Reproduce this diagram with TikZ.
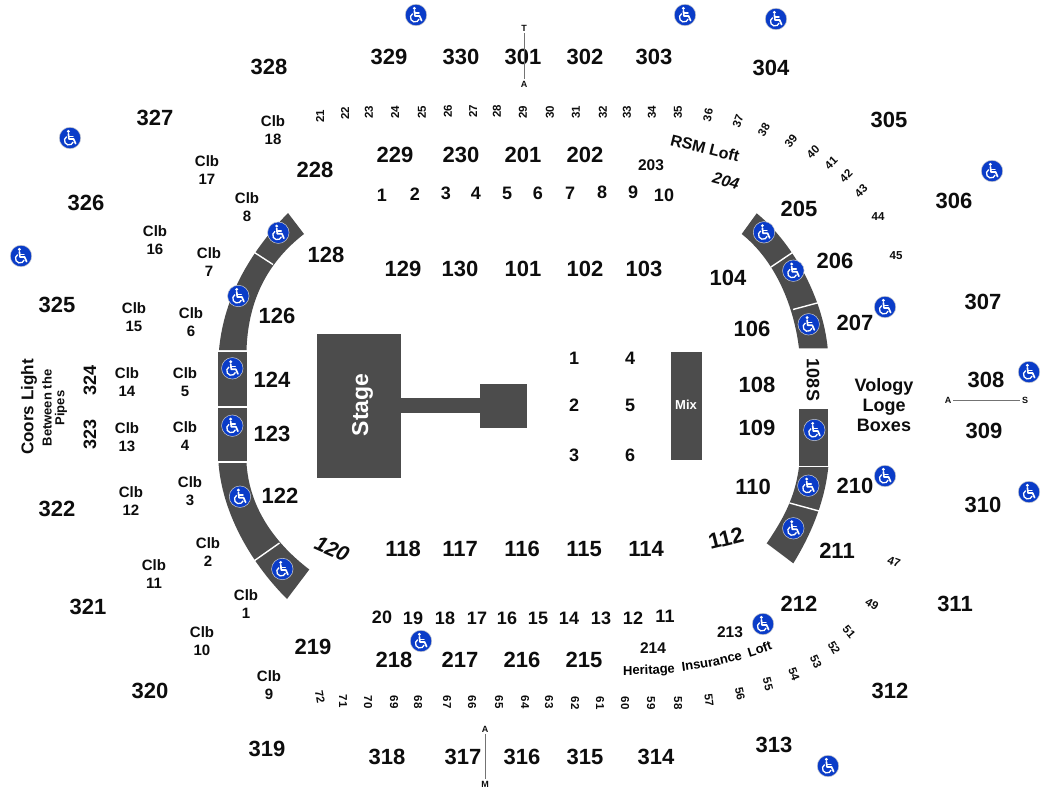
\documentclass[tikz,border=0pt]{standalone}
\usepackage{fontspec}
\setmainfont{Liberation Sans}
\usetikzlibrary{decorations.text}
\tikzset{
  every node/.style={inner sep=0pt,outer sep=0pt,text=black!95},
  labA/.style={font=\bfseries\fontsize{22}{24}\selectfont},
  labB/.style={font=\bfseries\fontsize{18}{20}\selectfont},
  labC/.style={font=\bfseries\fontsize{15}{18}\selectfont,align=center},
  labD/.style={font=\bfseries\fontsize{15.5}{17}\selectfont},
  rowno/.style={font=\bfseries\fontsize{11.5}{12}\selectfont},
  axisl/.style={font=\bfseries\fontsize{9}{9}\selectfont},
  seat/.style={fill=black!70},
  gap/.style={draw=white,line width=1.4pt},
  axis/.style={draw=black!55,line width=0.7pt,shorten >=2pt,shorten <=2pt},
  wcbase/.style={circle,minimum size=21.5pt,fill={rgb,255:red,10;green,60;blue,200},draw=black!20,line width=0.5pt},
  wc/.pic={
    \fill[white] (-1.6,-6.6) circle[radius=1.6pt];
    \draw[white,line width=1.7pt,line join=round,line cap=round] (-1.6,-4.2) -- (-1,1) -- (3.6,1) -- (5.6,5.6);
    \draw[white,line width=1.4pt,line cap=round] (-1.2,-1.8) -- (3,-1.8);
    \draw[white,line width=1.3pt] (-3.3,-1.4) arc[start angle=120,end angle=340,radius=4.5pt];
  }
}
\begin{document}
\begin{tikzpicture}[x=1pt,y=-1pt]
\useasboundingbox (0,0) rectangle (1050,800);
\fill[white] (0,0) rectangle (1050,800);
% stage
\fill[seat] (317,334) rectangle (401,478);
\fill[seat] (401,398) rectangle (480,413);
\fill[seat] (480,384) rectangle (527,428);
\fill[seat] (671,352) rectangle (702,460);
\node[font=\bfseries\fontsize{23}{23}\selectfont,text=white,rotate=90] (stage) at (362.5,405) {Stage};
\node[font=\bfseries\fontsize{13}{13}\selectfont,text=white] (mix) at (686,405) {Mix};
% left seating
\fill[seat] (219,350) .. controls (224,295) and (252,250) .. (288,213) -- (304,234) .. controls (264,265) and (248,305) .. (246.5,350) -- cycle;
\fill[seat] (218,351.5) rectangle (246.5,405.5);
\fill[seat] (218,407.5) rectangle (246.5,461);
\fill[seat] (218.5,463) .. controls (222,510) and (248,560) .. (287,599) -- (309.3,569.5) .. controls (272,541) and (249,505) .. (246.5,463) -- cycle;
\coordinate (g1a) at (253,251.5); \coordinate (g1b) at (273,264.5);
\coordinate (g2a) at (252.5,562); \coordinate (g2b) at (279.5,543);
\draw[gap] (g1a) -- (g1b);
\draw[gap] (g2a) -- (g2b);
% right seating
\fill[seat] (756.7,213.3) .. controls (795,245) and (823,300) .. (827.7,348.3) -- (799,348.3) .. controls (793,300) and (772,258) .. (741.7,234) -- cycle;
\fill[seat] (799,409) rectangle (828.3,465.7);
\fill[seat] (828.3,467) .. controls (825,500) and (812,533) .. (793.3,563.3) -- (766.7,543.3) .. controls (784,518) and (795,497) .. (799,467) -- cycle;
\coordinate (g3a) at (794,251.5); \coordinate (g3b) at (771,267);
\coordinate (g4a) at (819,302.5); \coordinate (g4b) at (793,309.5);
\coordinate (g5a) at (789.5,503); \coordinate (g5b) at (819,511);
\draw[gap] (g3a) -- (g3b);
\draw[gap] (g4a) -- (g4b);
\draw[gap] (g5a) -- (g5b);
% wheelchair icons
\foreach \x/\y [count=\i] in {416/15,685/15,776/19,70/138,992/171,21/256,885/307,1029/372,885/476,1029/492,763/624,421/641,828/766,278.3/232.7,238.3/296,232.3/368.3,232.3/425.7,240/496.7,282.3/569,764/232.3,793.3/270.7,808.7/324.3,814.3/430,808.3/485.7,793.3/528.3}{
  \node[wcbase] (w\i) at (\x,\y) {};
  \pic at (\x,\y) {wc};
}
% large section labels
\foreach \x/\y/\t in {389/57/329,461/57/330,523/57/301,585/57/302,654/57/303,771/68/304,269/67/328,155/118/327,86/203/326,57/305/325,889/120/305,954/201/306,983/302/307,986/380/308,984/431/309,983/505/310,955/604/311,890/691/312,774/745/313,656/757/314,585/757/315,522/757/316,463/757/317,387/757/318,267/749/319,150/691/320,88/607/321,57/509/322,
395/155/229,461/155/230,523/155/201,585/155/202,315/170/228,799/209/205,835/261/206,855/323/207,855/486/210,837/551/211,799/604/212,394/660/218,460/660/217,522/660/216,584/660/215,313/647/219,
326/255/128,403/269/129,460/269/130,523/269/101,585/269/102,644/269/103,728/278/104,752/329/106,757/385/108,757/428/109,753/487/110,646/549/114,584/549/115,522/549/116,460/549/117,403/549/118,280/496/122,272/434/123,272/380/124,277/316/126}{
  \node[labA] (s\t) at (\x,\y) {\t};
}
\node[labA,rotate=14] (s112) at (726,538) {112};
\node[rotate=-24,font=\bfseries\itshape\fontsize{21}{24}\selectfont] (s120) at (332,549) {120};
\node[labB,rotate=90] (s323) at (90,434) {323};
\node[labB,rotate=90] (s324) at (90,380) {324};
\node[labB,rotate=-90] (s108S) at (813,380) {108S};
% small section labels
\foreach \x/\y/\t in {651/165/203,730/632/213,653/648/214}{
  \node[labD] (s\t) at (\x,\y) {\t};
}
\node[font=\bfseries\itshape\fontsize{16}{16}\selectfont,rotate=-15] (s204) at (726,181) {204};
\node[font=\bfseries\fontsize{16}{16}\selectfont,rotate=-14] (rsm) at (705,148) {RSM Loft};
% rows
\foreach \x/\y/\t in {382/195/1,415/194/2,446/193/3,476/193/4,507/193/5,538/193/6,570/193/7,602/192/8,633/192/9,664/195/10}{
  \node[labB] (t\t) at (\x,\y) {\t};
}
\foreach \x/\y/\t in {382/617/20,413/618/19,445/618/18,477/618/17,507/618/16,538/618/15,569/618/14,601/618/13,633/618/12,665/616/11}{
  \node[labB] (b\t) at (\x,\y) {\t};
}
\foreach \x/\y/\t in {574/358/1,630/358/4,574/405/2,630/405/5,574/455/3,630/455/6}{
  \node[labB] (f\t) at (\x,\y) {\t};
}
% Clb
\foreach \x/\y/\t in {273/130/18,207/170/17,155/240/16,134/317/15,127/382/14,127/437/13,131/501/12,154/574/11,202/641/10,269/685/9,247/207/8,209/262/7,191/322/6,185/382/5,185/436/4,190/491/3,208/552/2,246/604/1}{
  \node[labC] (c\t) at (\x,\y) {Clb\\\t};
}
% boxes text
\node[labB,align=center,font=\bfseries\fontsize{18}{20.3}\selectfont] (vol) at (884,405) {Vology\\Loge\\Boxes};
\node[font=\bfseries\fontsize{17}{17}\selectfont,rotate=90] (coors) at (29,407) {Coors Light};
\node[font=\bfseries\fontsize{13}{13}\selectfont,rotate=90] (betw) at (47,408) {Between the};
\node[font=\bfseries\fontsize{13}{13}\selectfont,rotate=90] (pipes) at (61,408) {Pipes};
% row numbers: top and bottom bands
\foreach \x/\y/\t/\r in {320/116/21/90,345/113/22/90,369/112/23/90,395/112/24/90,422/112/25/90,448/111/26/90,473/111/27/90,497/111/28/90,523/112/29/90,550/112/30/90,576/112/31/90,603/112/32/90,627/112/33/90,652/112/34/90,678/112/35/90,708/115/36/78,738/121/37/70,764/130/38/60,791/141/39/52,813/152/40/45,831/163/41/45,846/176/42/45,861/191/43/45,878/217/44/0,896/256/45/0,894/562/47/-20,872/604/49/-30,849/632/51/-50,834/648/52/-60,816/662/53/-65,794/674/54/-70,768/684/55/-75,740/694/56/-78,709/700/57/-83,678/703/58/-90,651/703/59/-90,625/703/60/-90,600/703/61/-90,575/703/62/-90,549/702/63/-90,525/702/64/-90,499/702/65/-90,472/702/66/-90,447/702/67/-90,418/702/68/-90,394/702/69/-90,368/702/70/-90,343/701/71/-90,320/697/72/-80}{
  \node[rowno,rotate=\r] (r\t) at (\x,\y) {\t};
}
% heritage text
\coordinate (hA) at (625,675);
\coordinate (hB) at (771,650);
\path[decorate,decoration={text along path,text align=center,text={|\bfseries\fontsize{13}{13}\selectfont|Heritage{ }{ }Insurance{ }{ }Loft}}] (hA) .. controls (675,675) and (725,667) .. (hB);
% axis marks
\node[axisl] (tT) at (524,28) {T};
\node[axisl] (tA) at (524,84) {A};
\draw[axis] (tT) -- (tA);
\node[axisl] (bA) at (485,729) {A};
\node[axisl] (bM) at (485,784) {M};
\draw[axis] (bA) -- (bM);
\node[axisl] (rA) at (948,400.5) {A};
\node[axisl] (rS) at (1025,400.5) {S};
\draw[axis] (rA) -- (rS);
\end{tikzpicture}
\end{document}
